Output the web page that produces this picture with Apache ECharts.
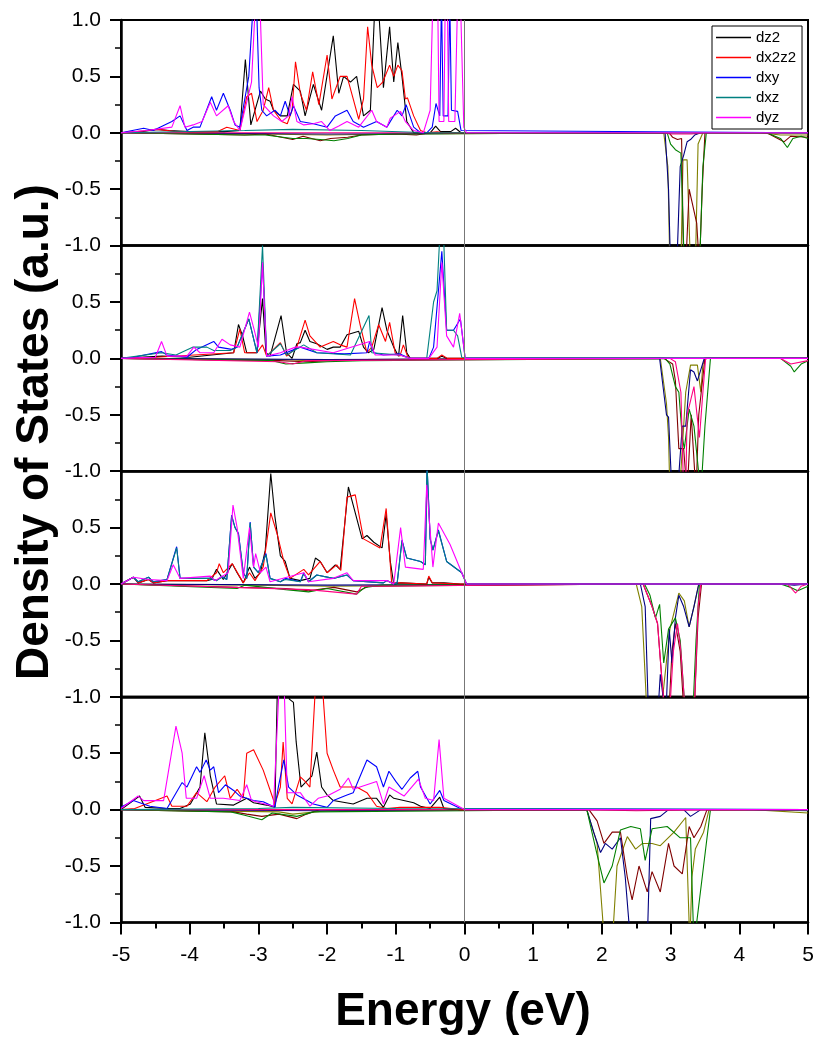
<!DOCTYPE html>
<html>
<head>
<meta charset="utf-8">
<script src="https://cdn.jsdelivr.net/npm/echarts@6/dist/echarts.min.js"></script>
<style>
  html, body { margin: 0; padding: 0; background: #fff; }
  #main { width: 819px; height: 1039px; }
</style>
</head>
<body>
<div id="main"></div>
<script>
// orbitals and colours (spin up / spin down)
const orbitals = ["dz2", "dx2z2", "dxy", "dxz", "dyz"];
const upColors = ["#000000", "#ff0000", "#0000ff", "#008080", "#ff00ff"];
const dnColors = ["#808000", "#800000", "#000080", "#008000", "#ff0080"];
const xTicks = [-5, -4, -3, -2, -1, 0, 1, 2, 3, 4, 5];

// ---- panel 1 ----
const up1_dz2 = [[-5,0],[-4.7,0.01],[-4.5,0.03],[-4.3,0.02],[-4.0,0.01],[-3.5,0.01],[-3.27,0.02],[-3.19,0.65],[-3.11,0.07],[-2.97,0.37],[-2.9,0.3],[-2.83,0.28],[-2.78,0.2],[-2.68,0.15],[-2.58,0.15],[-2.49,0.43],[-2.39,0.37],[-2.32,0.15],[-2.2,0.43],[-2.08,0.2],[-1.91,0.86],[-1.83,0.35],[-1.76,0.5],[-1.66,0.45],[-1.57,0.5],[-1.47,0.15],[-1.37,0.2],[-1.3,1.2],[-1.26,1.2],[-1.18,0.4],[-1.09,0.94],[-1.03,0.45],[-0.97,0.8],[-0.91,0.5],[-0.84,0.1],[-0.74,0],[-0.5,0],[-0.42,0.06],[-0.35,0.01],[-0.2,0.01],[-0.13,0.04],[-0.05,0],[5,0]];
const up1_dx2z2 = [[-5,0],[-4.6,0.02],[-4.45,0.03],[-4.2,0.01],[-3.6,0.01],[-3.46,0.05],[-3.27,0.02],[-3.17,0.32],[-3.1,0.35],[-3.02,0.1],[-2.93,0.2],[-2.85,0.4],[-2.78,0.2],[-2.66,0.1],[-2.58,0.08],[-2.51,0.2],[-2.46,0.63],[-2.39,0.35],[-2.3,0.2],[-2.21,0.54],[-2.12,0.25],[-2.0,0.69],[-1.93,0.3],[-1.81,0.5],[-1.71,0.5],[-1.62,0.3],[-1.54,0.12],[-1.47,0.3],[-1.41,0.94],[-1.35,0.6],[-1.27,0.4],[-1.19,0.45],[-1.09,0.6],[-1.03,0.5],[-0.97,0.6],[-0.91,0.55],[-0.86,0.3],[-0.83,0.31],[-0.74,0.15],[-0.64,0.02],[-0.55,0],[-0.4,0.01],[-0.3,0],[5,0]];
const up1_dxy = [[-5,0],[-4.67,0.04],[-4.53,0.02],[-4.26,0.1],[-4.14,0.15],[-4.04,0.02],[-3.95,0.05],[-3.85,0.05],[-3.68,0.32],[-3.61,0.2],[-3.51,0.35],[-3.41,0.2],[-3.34,0.07],[-3.27,0.05],[-3.14,0.5],[-3.07,1.2],[-3.03,1.2],[-2.99,0.4],[-2.95,0.2],[-2.88,0.15],[-2.76,0.2],[-2.68,0.15],[-2.61,0.28],[-2.54,0.15],[-2.49,0.24],[-2.39,0.1],[-2.2,0.08],[-2.0,0.05],[-1.88,0.15],[-1.71,0.2],[-1.62,0.1],[-1.47,0.05],[-1.28,0.1],[-1.13,0.05],[-0.98,0.2],[-0.91,0.15],[-0.85,0.25],[-0.74,0.05],[-0.64,0],[-0.55,0],[-0.47,0.05],[-0.415,0.26],[-0.36,0.15],[-0.335,1.2],[-0.31,0.15],[-0.24,0.15],[-0.215,1.2],[-0.19,0.2],[-0.1,0.19],[-0.05,0.02],[5,0]];
const up1_dxz = [[-5,0],[-3.2,0.02],[-2.5,0.03],[-1.5,0.02],[-0.5,0],[5,0]];
const up1_dyz = [[-5,0],[-4.63,0.02],[-4.26,0.05],[-4.14,0.24],[-4.07,0.05],[-3.95,0.07],[-3.82,0.1],[-3.7,0.27],[-3.61,0.15],[-3.44,0.24],[-3.36,0.1],[-3.27,0.02],[-3.1,0.45],[-3.04,1.2],[-2.98,1.2],[-2.93,0.25],[-2.78,0.15],[-2.66,0.1],[-2.56,0.15],[-2.51,0.32],[-2.44,0.1],[-2.34,0.07],[-2.2,0.08],[-2.08,0.1],[-1.96,0.02],[-1.83,0.06],[-1.71,0.1],[-1.54,0.05],[-1.35,0.2],[-1.28,0.1],[-1.13,0.05],[-1.08,0.13],[-0.93,0.19],[-0.86,0.1],[-0.74,0.02],[-0.6,0],[-0.5,0.2],[-0.46,1.2],[-0.39,1.2],[-0.37,0.1],[-0.3,0.1],[-0.28,1.2],[-0.25,1.2],[-0.23,0.1],[-0.14,0.1],[-0.1,1.2],[-0.06,1.2],[-0.01,0.05],[0.03,0],[5,0]];
const dn1_dz2 = [[-5,0],[-3,-0.01],[-2,-0.02],[-1,-0.01],[2.9,0],[2.96,-0.3],[2.99,-1.2],[3.15,-1.2],[3.18,-0.24],[3.24,-0.24],[3.29,-1.2],[3.36,-1.2],[3.4,-0.1],[3.47,0],[4.3,0],[4.6,-0.02],[5,-0.02]];
const dn1_dx2z2 = [[-5,0],[-3.2,-0.02],[-2.9,-0.01],[-2.5,-0.06],[-2.35,-0.03],[-2.1,-0.07],[-1.95,-0.05],[-1.7,-0.04],[-1.5,-0.02],[-1.0,-0.01],[-0.7,-0.02],[-0.5,0],[2.98,0],[3.03,-0.04],[3.1,-0.06],[3.16,-0.05],[3.19,-1.2],[3.22,-1.2],[3.27,-0.5],[3.38,-0.8],[3.42,-1.2],[3.46,-0.5],[3.5,0],[4.4,0],[4.65,-0.08],[4.75,-0.03],[5,-0.04]];
const dn1_dxy = [[-5,0],[-2,-0.01],[2.92,0],[2.97,-0.5],[3.0,-1.2],[3.09,-1.2],[3.14,-0.3],[3.19,-0.2],[3.24,-0.08],[3.29,-0.06],[3.35,-0.02],[3.44,0],[5,0]];
const dn1_dxz = [[-5,0],[-3.2,-0.02],[-2.9,-0.02],[-2.5,-0.05],[-2.3,-0.05],[-2.1,-0.06],[-1.9,-0.07],[-1.7,-0.05],[-1.5,-0.02],[-1.0,-0.01],[2.95,0],[3.0,-0.1],[3.07,-0.15],[3.15,-0.18],[3.2,-1.2],[3.42,-1.2],[3.47,-0.3],[3.52,0],[4.4,0],[4.6,-0.05],[4.7,-0.13],[4.78,-0.05],[4.9,-0.03],[5,-0.05]];
const dn1_dyz = [[-5,0],[2.9,0],[3.0,-0.01],[3.3,-0.01],[3.5,0],[5,0]];

// ---- panel 2 ----
const up2_dz2 = [[-5,0],[-4.4,0.02],[-4,0.01],[-3.36,0.05],[-3.29,0.3],[-3.23,0.2],[-3.17,0.05],[-3.02,0.05],[-2.94,0.53],[-2.89,0.05],[-2.83,0.02],[-2.67,0.38],[-2.59,0.05],[-2.51,0],[-2.44,0.13],[-2.39,0.14],[-2.32,0.25],[-2.25,0.15],[-2.15,0.13],[-2.0,0.08],[-1.91,0.1],[-1.81,0.1],[-1.71,0.21],[-1.54,0.24],[-1.47,0.1],[-1.4,0.05],[-1.32,0.08],[-1.2,0.45],[-1.13,0.25],[-1.03,0.1],[-0.96,0.02],[-0.9,0.38],[-0.84,0.05],[-0.79,0],[-0.4,0],[-0.33,0.02],[-0.25,0],[5,0]];
const up2_dx2z2 = [[-5,0],[-4.5,0.01],[-3.36,0.05],[-3.27,0.26],[-3.2,0.05],[-3.02,0.05],[-2.94,0.12],[-2.88,0.02],[-2.68,0.14],[-2.59,0.02],[-2.44,0.1],[-2.32,0.34],[-2.25,0.2],[-2.1,0.1],[-1.91,0.15],[-1.81,0.12],[-1.71,0.1],[-1.6,0.53],[-1.52,0.3],[-1.42,0.05],[-1.35,0.1],[-1.25,0.3],[-1.15,0.15],[-1.09,0.32],[-1.01,0.05],[-0.94,0.02],[-0.89,0.12],[-0.83,0.02],[-0.79,0],[-0.4,0],[-0.33,0.03],[-0.25,0],[5,0]];
const up2_dxy = [[-5,0],[-4.82,0.01],[-4.41,0.06],[-4.33,0.03],[-4.04,0.01],[-3.9,0.08],[-3.65,0.15],[-3.58,0.1],[-3.39,0.08],[-3.31,0.1],[-3.14,0.35],[-3.02,0.05],[-2.94,0.85],[-2.88,0.02],[-2.68,0.03],[-2.39,0.1],[-2.15,0.05],[-1.75,0.04],[-1.42,0.05],[-1.38,0.15],[-1.32,0.05],[-1.18,0.03],[-0.94,0.04],[-0.79,0],[-0.52,0],[-0.45,0.1],[-0.33,0.95],[-0.26,0.25],[-0.16,0.25],[-0.06,0.35],[0.01,0],[5,0]];
const up2_dxz = [[-5,0],[-4.41,0.05],[-4.2,0.03],[-3.95,0.1],[-3.75,0.1],[-3.65,0.07],[-3.41,0.07],[-3.31,0.1],[-3.14,0.35],[-3.02,0.05],[-2.94,1.0],[-2.88,0.02],[-2.68,0.13],[-2.59,0.03],[-2.34,0.12],[-2.15,0.05],[-1.66,0.03],[-1.39,0.38],[-1.35,0.05],[-0.94,0.03],[-0.79,0],[-0.55,0],[-0.45,0.5],[-0.4,0.6],[-0.35,1.2],[-0.31,1.2],[-0.26,0.25],[-0.16,0.25],[-0.1,0.2],[-0.04,0.01],[5,0]];
const up2_dyz = [[-5,0],[-4.5,0.01],[-4.41,0.15],[-4.33,0.02],[-4.04,0.02],[-3.94,0.1],[-3.85,0.05],[-3.65,0.05],[-3.53,0.17],[-3.41,0.12],[-3.27,0.1],[-3.13,0.41],[-3.06,0.25],[-3.0,0.1],[-2.94,0.85],[-2.88,0.02],[-2.68,0.05],[-2.46,0.1],[-2.39,0.1],[-1.91,0.05],[-1.38,0.15],[-1.3,0.03],[-0.94,0.03],[-0.79,0],[-0.52,0],[-0.4,0.1],[-0.33,0.85],[-0.26,0.2],[-0.16,0.1],[-0.07,0.4],[0.01,0],[5,0]];
const dn2_dz2 = [[-5,0],[-2.6,-0.01],[-2.3,-0.02],[-1.5,-0.01],[2.85,0],[2.94,-0.4],[2.97,-0.7],[2.99,-1.2],[3.13,-1.2],[3.22,-0.3],[3.29,-0.06],[3.39,-0.06],[3.44,-0.3],[3.47,-0.05],[3.52,0],[5,0]];
const dn2_dx2z2 = [[-5,0],[-2.7,-0.02],[-2.3,-0.03],[-1.5,-0.01],[2.9,0],[3.03,-0.05],[3.07,-0.2],[3.12,-0.8],[3.19,-0.8],[3.24,-1.2],[3.3,-0.5],[3.37,-1.2],[3.41,-0.5],[3.5,0],[5,0]];
const dn2_dxy = [[-5,0],[-2,-0.01],[2.84,0],[2.9,-0.3],[2.94,-0.5],[2.97,-0.52],[3.02,-1.2],[3.1,-1.2],[3.17,-0.6],[3.22,-0.6],[3.29,-0.1],[3.34,-0.12],[3.39,-0.2],[3.44,-0.1],[3.49,0],[5,0]];
const dn2_dxz = [[-5,0],[-2.8,-0.02],[-2.6,-0.05],[-2.3,-0.04],[-2.0,-0.03],[-1.5,-0.02],[2.92,0],[2.99,-0.05],[3.07,-0.25],[3.12,-0.3],[3.17,-0.7],[3.2,-0.8],[3.27,-0.45],[3.34,-0.6],[3.44,-1.2],[3.5,-0.6],[3.58,0],[4.6,0],[4.75,-0.07],[4.8,-0.12],[4.9,-0.05],[5,-0.02]];
const dn2_dyz = [[-5,0],[-2.7,-0.03],[-2.5,-0.05],[-2.3,-0.02],[2.99,0],[3.07,-0.03],[3.15,-0.3],[3.19,-1.2],[3.22,-1.2],[3.24,-0.5],[3.34,-0.25],[3.42,-0.7],[3.47,-0.3],[3.51,0],[4.6,0],[4.75,-0.05],[5,-0.02]];

// ---- panel 3 ----
const up3_dz2 = [[-5,0],[-4.82,0.06],[-4.75,0.01],[-4.6,0.04],[-4.53,0.01],[-4.33,0.03],[-3.75,0.03],[-3.68,0.04],[-3.61,0.13],[-3.51,0.04],[-3.38,0.18],[-3.31,0.1],[-3.22,0.01],[-3.13,0.15],[-3.05,0.05],[-2.97,0.1],[-2.9,0.3],[-2.82,0.98],[-2.76,0.6],[-2.68,0.25],[-2.61,0.2],[-2.54,0.05],[-2.39,0.03],[-2.25,0.05],[-2.17,0.23],[-2.1,0.2],[-2.0,0.1],[-1.88,0.17],[-1.81,0.13],[-1.69,0.86],[-1.62,0.7],[-1.49,0.4],[-1.42,0.43],[-1.32,0.37],[-1.2,0.32],[-1.14,0.62],[-1.08,0.2],[-1.03,0],[-0.93,0.01],[-0.55,0],[-0.52,0.06],[-0.47,0.01],[-0.3,0.01],[-0.06,0],[5,0]];
const up3_dx2z2 = [[-5,0],[-4.82,0.06],[-4.75,0.01],[-4.6,0.04],[-4.53,0.01],[-4.33,0.03],[-3.75,0.03],[-3.61,0.1],[-3.57,0.18],[-3.51,0.1],[-3.38,0.18],[-3.22,0.01],[-3.13,0.1],[-3.05,0.03],[-2.93,0.15],[-2.82,0.63],[-2.73,0.45],[-2.63,0.2],[-2.54,0.05],[-2.34,0.13],[-2.27,0.08],[-2.1,0.2],[-2.0,0.1],[-1.86,0.17],[-1.8,0.12],[-1.71,0.77],[-1.59,0.79],[-1.47,0.4],[-1.23,0.32],[-1.14,0.67],[-1.06,0.01],[-0.93,0.01],[-0.55,0],[-0.52,0.07],[-0.47,0.01],[-0.06,0],[5,0]];
const up3_dxy = [[-5,0],[-4.82,0.06],[-4.75,0.02],[-4.6,0.06],[-4.53,0.02],[-4.33,0.04],[-4.19,0.33],[-4.14,0.05],[-3.7,0.05],[-3.61,0.03],[-3.53,0.07],[-3.46,0.04],[-3.39,0.61],[-3.34,0.5],[-3.29,0.45],[-3.22,0.1],[-3.17,0.05],[-3.12,0.55],[-3.07,0.15],[-3.0,0.1],[-2.89,0.27],[-2.83,0.05],[-2.68,0.02],[-2.61,0.05],[-2.39,0.02],[-2.34,0.1],[-2.27,0.02],[-2.15,0.08],[-1.91,0.05],[-1.71,0.08],[-1.62,0.03],[-1.18,0.01],[-1.13,0.03],[-1.03,0],[-0.98,0.01],[-0.91,0.39],[-0.84,0.23],[-0.64,0.2],[-0.57,0.17],[-0.545,1.05],[-0.5,0.4],[-0.46,0.3],[-0.38,0.48],[-0.26,0.2],[-0.04,0.1],[0.03,0],[5,0]];
const up3_dxz = [[-5,0],[-4.82,0.06],[-4.75,0.02],[-4.6,0.06],[-4.53,0.02],[-4.33,0.04],[-4.19,0.32],[-4.14,0.05],[-3.7,0.05],[-3.61,0.03],[-3.53,0.06],[-3.46,0.04],[-3.39,0.6],[-3.34,0.5],[-3.29,0.44],[-3.22,0.1],[-3.17,0.05],[-3.12,0.54],[-3.07,0.15],[-3.0,0.1],[-2.89,0.26],[-2.83,0.05],[-2.68,0.02],[-2.61,0.04],[-2.39,0.02],[-2.34,0.09],[-2.27,0.02],[-2.15,0.08],[-1.91,0.05],[-1.71,0.08],[-1.62,0.03],[-1.18,0.01],[-1.13,0.03],[-1.03,0],[-0.98,0.01],[-0.91,0.38],[-0.84,0.23],[-0.64,0.2],[-0.57,0.17],[-0.545,1.05],[-0.5,0.4],[-0.46,0.3],[-0.38,0.47],[-0.26,0.2],[-0.04,0.1],[0.03,0],[5,0]];
const up3_dyz = [[-5,0],[-4.82,0.06],[-4.6,0.04],[-4.33,0.03],[-4.24,0.17],[-4.14,0.05],[-3.7,0.07],[-3.63,0.03],[-3.44,0.1],[-3.37,0.7],[-3.31,0.5],[-3.22,0.05],[-3.13,0.5],[-3.07,0.15],[-3.04,0.27],[-2.97,0.1],[-2.89,0.15],[-2.83,0.02],[-2.34,0.1],[-2.27,0.02],[-1.91,0.05],[-1.71,0.1],[-1.62,0.03],[-1.13,0.03],[-1.03,0],[-0.93,0.5],[-0.86,0.15],[-0.6,0.13],[-0.55,0.88],[-0.46,0.15],[-0.38,0.54],[-0.21,0.35],[-0.04,0.1],[0.03,0],[5,0]];
const dn3_dz2 = [[-5,0],[-3,-0.01],[-2,-0.02],[2.5,0],[2.58,-0.2],[2.66,-1.2],[2.85,-1.2],[2.99,-0.4],[3.12,-0.08],[3.2,-0.15],[3.27,-0.38],[3.34,-0.2],[3.41,0],[5,0]];
const dn3_dx2z2 = [[-5,0],[-3.3,-0.03],[-2.6,-0.04],[-2.27,-0.06],[-1.9,-0.03],[-1.57,-0.07],[-1.4,-0.02],[2.6,0],[2.73,-0.2],[2.81,-0.35],[2.88,-0.9],[2.93,-1.2],[2.97,-1.2],[3.02,-0.6],[3.07,-0.35],[3.14,-0.6],[3.2,-1.2],[3.34,-1.2],[3.4,-0.3],[3.45,0],[5,0]];
const dn3_dxy = [[-5,0],[-2,-0.01],[2.56,0],[2.63,-0.2],[2.68,-1.2],[2.81,-1.2],[2.85,-0.8],[2.93,-1.2],[2.98,-0.4],[3.02,-0.7],[3.07,-0.3],[3.12,-0.1],[3.19,-0.2],[3.27,-0.38],[3.34,-0.2],[3.41,0],[4.6,0],[4.8,-0.01],[5,0]];
const dn3_dxz = [[-5,0],[-3.31,-0.04],[-3.2,-0.01],[-2.6,-0.05],[-2.27,-0.07],[-2.0,-0.04],[-1.57,-0.09],[-1.45,-0.03],[-1.2,-0.01],[2.62,0],[2.7,-0.1],[2.78,-0.3],[2.84,-0.18],[2.9,-0.7],[2.97,-0.4],[3.07,-0.3],[3.14,-0.5],[3.22,-1.2],[3.32,-1.2],[3.37,-0.5],[3.42,0],[4.6,0],[4.75,-0.03],[4.85,-0.06],[5,-0.02]];
const dn3_dyz = [[-5,0],[-2.27,-0.05],[-1.57,-0.09],[-1.5,-0.02],[2.6,0],[2.73,-0.2],[2.81,-0.35],[2.88,-0.9],[2.93,-1.2],[2.98,-1.2],[3.04,-0.6],[3.1,-0.35],[3.15,-0.6],[3.22,-1.2],[3.34,-1.2],[3.4,-0.2],[3.44,0],[4.7,0],[4.82,-0.08],[4.9,-0.02],[5,0]];

// ---- panel 4 ----
const up4_dz2 = [[-5,0],[-4.73,0.12],[-4.65,0.02],[-4.33,0.01],[-4.14,0.01],[-3.99,0.05],[-3.85,0.2],[-3.78,0.68],[-3.7,0.3],[-3.61,0.05],[-3.36,0.04],[-3.17,0.1],[-3.07,0.06],[-2.88,0.04],[-2.76,0.02],[-2.72,1.2],[-2.6,1.2],[-2.55,0.98],[-2.49,0.95],[-2.45,0.6],[-2.38,0.2],[-2.3,0.25],[-2.22,0.3],[-2.15,0.51],[-2.08,0.2],[-2.0,0.13],[-1.91,0.08],[-1.62,0.05],[-1.42,0.1],[-1.28,0.1],[-1.18,0.02],[-1.09,0.13],[-1.03,0.1],[-0.74,0.06],[-0.64,0.03],[-0.5,0.01],[-0.36,0.11],[-0.3,0.01],[-0.06,0],[5,0]];
const up4_dx2z2 = [[-5,0],[-4.8,0.01],[-4.33,0.12],[-4.26,0.03],[-4.04,0.03],[-3.9,0.15],[-3.75,0.07],[-3.63,0.2],[-3.49,0.3],[-3.41,0.1],[-3.31,0.18],[-3.22,0.1],[-3.17,0.5],[-3.07,0.53],[-2.93,0.35],[-2.76,0.05],[-2.68,0.2],[-2.64,0.6],[-2.58,0.1],[-2.51,0.05],[-2.39,0.29],[-2.32,0.25],[-2.25,0.2],[-2.16,1.2],[-2.08,1.2],[-2.0,0.5],[-1.91,0.35],[-1.81,0.2],[-1.71,0.2],[-1.57,0.2],[-1.42,0.15],[-1.28,0.03],[-1.13,0.01],[-0.94,0.02],[-0.36,0.02],[-0.06,0],[5,0]];
const up4_dxy = [[-5,0.02],[-4.82,0.08],[-4.58,0.03],[-4.33,0.01],[-4.11,0.24],[-4.04,0.2],[-3.9,0.38],[-3.85,0.33],[-3.76,0.44],[-3.7,0.35],[-3.65,0.38],[-3.58,0.15],[-3.48,0.22],[-3.36,0.17],[-3.27,0.12],[-3.17,0.1],[-3.07,0.08],[-2.93,0.07],[-2.76,0.02],[-2.71,0.2],[-2.63,0.44],[-2.56,0.2],[-2.44,0.13],[-2.2,0.05],[-2.0,0.02],[-1.91,0.08],[-1.71,0.13],[-1.62,0.15],[-1.42,0.44],[-1.28,0.38],[-1.18,0.2],[-1.1,0.34],[-1.0,0.25],[-0.91,0.18],[-0.79,0.28],[-0.68,0.34],[-0.64,0.2],[-0.5,0.05],[-0.36,0.17],[-0.3,0.08],[-0.06,0.01],[5,0]];
const up4_dxz = [[-5,0],[-3,0.01],[-2.5,0.02],[-1,0.01],[5,0]];
const up4_dyz = [[-5,0.01],[-4.75,0.12],[-4.67,0.08],[-4.38,0.08],[-4.2,0.74],[-4.11,0.5],[-4.05,0.1],[-3.9,0.1],[-3.79,0.3],[-3.7,0.1],[-3.51,0.1],[-3.27,0.08],[-3.17,0.22],[-3.1,0.08],[-2.78,0.03],[-2.69,1.2],[-2.63,1.2],[-2.58,0.15],[-2.39,0.15],[-2.25,0.03],[-2.13,0.1],[-2.0,0.12],[-1.81,0.18],[-1.69,0.28],[-1.62,0.18],[-1.28,0.25],[-1.18,0.05],[-1.1,0.2],[-0.88,0.12],[-0.67,0.27],[-0.57,0.1],[-0.45,0.08],[-0.37,0.62],[-0.3,0.1],[0,0],[5,0]];
const dn4_dz2 = [[-5,0],[-2.7,-0.02],[-2.5,-0.04],[-2,-0.01],[1.78,0],[1.93,-0.3],[2.04,-1.2],[2.15,-1.2],[2.22,-0.5],[2.37,-0.24],[2.49,-0.35],[2.59,-0.3],[2.73,-0.3],[2.85,-0.32],[3.05,-0.2],[3.22,-0.07],[3.28,-1.2],[3.31,-0.6],[3.36,-0.35],[3.48,-0.2],[3.56,0],[4.2,0],[5,-0.03]];
const dn4_dx2z2 = [[-5,0],[-3.36,-0.02],[-3.17,-0.04],[-2.95,-0.06],[-2.7,-0.04],[-2.44,-0.08],[-2.3,-0.04],[-2.1,0],[1.81,0],[1.93,-0.1],[2.03,-0.3],[2.15,-0.2],[2.27,-0.2],[2.37,-0.6],[2.44,-0.8],[2.54,-0.5],[2.66,-0.73],[2.73,-0.55],[2.85,-0.73],[2.97,-0.3],[3.05,-0.5],[3.17,-0.57],[3.27,-0.15],[3.34,-0.25],[3.44,-0.15],[3.53,0],[5,0]];
const dn4_dxy = [[-5,0],[-2,-0.01],[1.78,0],[1.88,-0.2],[1.98,-0.38],[2.05,-0.3],[2.15,-0.35],[2.27,-0.25],[2.34,-0.6],[2.42,-1.2],[2.66,-1.2],[2.71,-0.08],[2.85,-0.06],[2.97,0],[3.19,0],[3.29,-0.06],[3.44,0],[5,0]];
const dn4_dxz = [[-5,0],[-3.4,-0.02],[-3.2,-0.05],[-2.95,-0.09],[-2.8,-0.03],[-2.44,-0.06],[-2.2,-0.02],[1.78,0],[1.93,-0.4],[2.03,-0.65],[2.15,-0.5],[2.27,-0.18],[2.42,-0.15],[2.56,-0.17],[2.63,-0.45],[2.73,-0.17],[2.95,-0.15],[3.14,-0.25],[3.29,-0.25],[3.34,-1.2],[3.48,-0.5],[3.58,0],[4.2,0],[5,-0.01]];
const dn4_dyz = [[-5,0],[1.8,0],[2.5,-0.01],[3.5,0],[5,0]];

const panels = [
  { up: [up1_dz2, up1_dx2z2, up1_dxy, up1_dxz, up1_dyz], dn: [dn1_dz2, dn1_dx2z2, dn1_dxy, dn1_dxz, dn1_dyz] },
  { up: [up2_dz2, up2_dx2z2, up2_dxy, up2_dxz, up2_dyz], dn: [dn2_dz2, dn2_dx2z2, dn2_dxy, dn2_dxz, dn2_dyz] },
  { up: [up3_dz2, up3_dx2z2, up3_dxy, up3_dxz, up3_dyz], dn: [dn3_dz2, dn3_dx2z2, dn3_dxy, dn3_dxz, dn3_dyz] },
  { up: [up4_dz2, up4_dx2z2, up4_dxy, up4_dxz, up4_dyz], dn: [dn4_dz2, dn4_dx2z2, dn4_dxy, dn4_dxz, dn4_dyz] }
];

const font = "'Liberation Sans', Arial, sans-serif";
const plotTop = 20;
const panelH = 225.6;

let grid = [], xAxis = [], yAxis = [], series = [];
panels.forEach((panel, p) => {
  let last = p === panels.length - 1;
  grid.push({
    left: 121,
    right: 11,
    top: plotTop + p * panelH,
    height: panelH,
    show: true,
    borderColor: "#000",
    borderWidth: 2
  });
  xAxis.push({
    gridIndex: p,
    type: "value",
    position: "bottom",
    min: xTicks[0],
    max: xTicks[xTicks.length - 1],
    interval: 1,
    axisLine: { show: true, onZero: false, lineStyle: { color: "#000", width: 2.5 } },
    axisTick: { show: last, inside: false, length: 12, lineStyle: { color: "#000", width: 2 } },
    minorTick: { show: last, splitNumber: 2, length: 6, lineStyle: { color: "#000", width: 2 } },
    axisLabel: { show: last, color: "#000", fontSize: 21, fontFamily: font, margin: 22 },
    splitLine: { show: false }
  });
  yAxis.push({
    gridIndex: p,
    type: "value",
    position: "left",
    min: -1,
    max: 1,
    interval: 0.5,
    axisLine: { show: true, onZero: false, lineStyle: { color: "#000", width: 2.5 } },
    axisTick: { show: true, inside: false, length: 11, lineStyle: { color: "#000", width: 2 } },
    minorTick: { show: true, splitNumber: 2, length: 6, lineStyle: { color: "#000", width: 1.5 } },
    axisLabel: {
      color: "#000",
      fontSize: 21,
      fontFamily: font,
      margin: 20,
      showMaxLabel: p === 0,
      showMinLabel: true,
      formatter: v => v.toFixed(1)
    },
    splitLine: { show: false }
  });
  // spin down first, spin up on top
  panel.dn.forEach((d, k) => {
    series.push({
      name: orbitals[k] + " down",
      type: "line",
      xAxisIndex: p,
      yAxisIndex: p,
      data: d,
      symbol: "none",
      clip: true,
      lineStyle: { color: dnColors[k], width: 1.1 },
      itemStyle: { color: dnColors[k] },
      markLine: k === 0 ? {
        silent: true,
        symbol: "none",
        label: { show: false },
        lineStyle: { color: "#777", width: 1, type: "solid" },
        data: [{ xAxis: 0 }]
      } : undefined
    });
  });
  panel.up.forEach((d, k) => {
    series.push({
      name: orbitals[k],
      type: "line",
      xAxisIndex: p,
      yAxisIndex: p,
      data: d,
      symbol: "none",
      clip: true,
      lineStyle: { color: upColors[k], width: 1.1 },
      itemStyle: { color: upColors[k] }
    });
  });
});

let chart = echarts.init(document.getElementById("main"), null, { renderer: "canvas" });
chart.setOption({
  animation: false,
  backgroundColor: "#fff",
  grid: grid,
  xAxis: xAxis,
  yAxis: yAxis,
  legend: {
    data: orbitals.map((o, k) => ({ name: o, icon: "rect", itemStyle: { color: upColors[k] } })),
    orient: "vertical",
    left: 712,
    top: 26,
    itemWidth: 35,
    itemHeight: 1.5,
    itemGap: 5,
    padding: [4, 6, 4, 4],
    borderColor: "#000",
    borderWidth: 1,
    backgroundColor: "#fff",
    textStyle: { color: "#000", fontSize: 15, fontFamily: font, lineHeight: 15 }
  },
  graphic: [
    {
      type: "text",
      x: 35,
      y: 432,
      rotation: Math.PI / 2,
      style: {
        text: "Density of States (a.u.)",
        font: "bold 46px " + font,
        fill: "#000",
        align: "center",
        verticalAlign: "middle"
      }
    },
    {
      type: "text",
      x: 463,
      y: 1012,
      style: {
        text: "Energy (eV)",
        font: "bold 46px " + font,
        fill: "#000",
        align: "center",
        verticalAlign: "middle"
      }
    }
  ],
  series: series
});
</script>
</body>
</html>
